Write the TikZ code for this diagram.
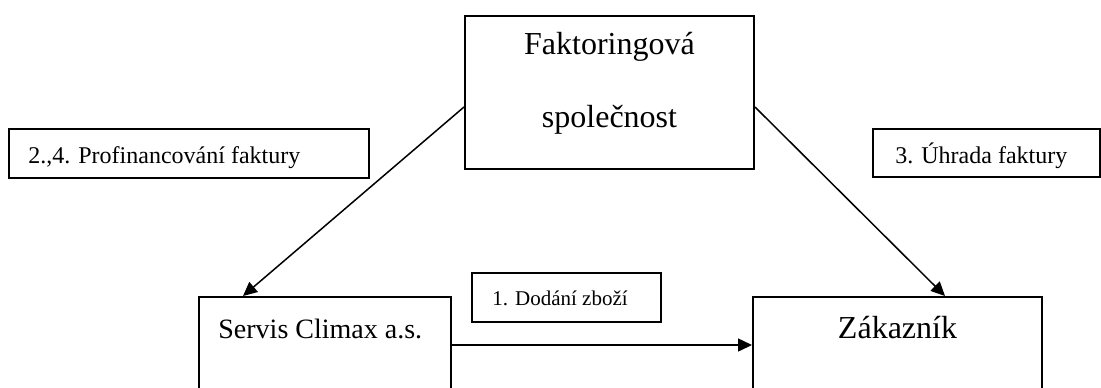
\documentclass[tikz,border=0pt]{standalone}
\usepackage{fontspec}
\setmainfont{Liberation Serif}
\usetikzlibrary{arrows.meta}
\begin{document}
\begin{tikzpicture}[x=0.5pt,y=-0.5pt,
    box/.style={draw,line width=1pt,inner sep=0pt},
    tagbox/.style={draw,line width=0.9pt,inner sep=0pt,minimum height=24.5pt},
    big/.style={font=\fontsize{16}{19}\selectfont,inner sep=0pt},
    tagtext/.style={font=\fontsize{12}{14}\selectfont,inner sep=0pt,anchor=base west},
    flow/.style={-{Triangle[length=7pt,width=6.5pt]},line width=0.75pt}]
    \useasboundingbox (0,0) rectangle (1101,387);
    \clip (0,0) rectangle (1101,387);
    % Hlavni bloky
    \node[box,minimum width=144.5pt,minimum height=76.5pt] (factor) at (609.5,92.5) {};
    \node[big,anchor=base] (factor1) at (609.5,54) {Faktoringová};
    \node[big,anchor=base] (factor2) at (609.5,127) {společnost};
    \node[box,minimum width=126pt,minimum height=48pt] (servis) at (325,345) {};
    \node[font=\fontsize{14}{17}\selectfont,inner sep=0pt,anchor=base west] (servistext) at (218,338) {Servis Climax a.s.};
    \node[box,minimum width=144.5pt,minimum height=48pt] (customer) at (897.5,345) {};
    \node[big,anchor=base] (customertext) at (897.5,338) {Zákazník};
    % Popisky toku
    \node[tagbox,minimum width=180pt] (tagfin) at (189,153.5) {};
    \node[tagtext] (tagfintext) at (28,163) {2.,4. Profinancování faktury};
    \node[tagbox,minimum width=113.5pt,minimum height=24pt] (tagpay) at (986.5,153) {};
    \node[tagtext] (tagpaytext) at (895,163) {3. Úhrada faktury};
    \node[tagbox,minimum width=94.5pt] (tagship) at (566.5,297.5) {};
    \node[tagtext,font=\fontsize{10.5}{13}\selectfont] (tagshiptext) at (492,305) {1. Dodání zboží};
    % Sipky
    \draw[flow] ([yshift=-7.25pt]factor.west) -- ([xshift=-41pt]servis.north);
    \draw[flow] ([yshift=-7.25pt]factor.east) -- ([xshift=23.75pt]customer.north);
    \draw[flow] (servis.east) -- (customer.west);
\end{tikzpicture}
\end{document}
